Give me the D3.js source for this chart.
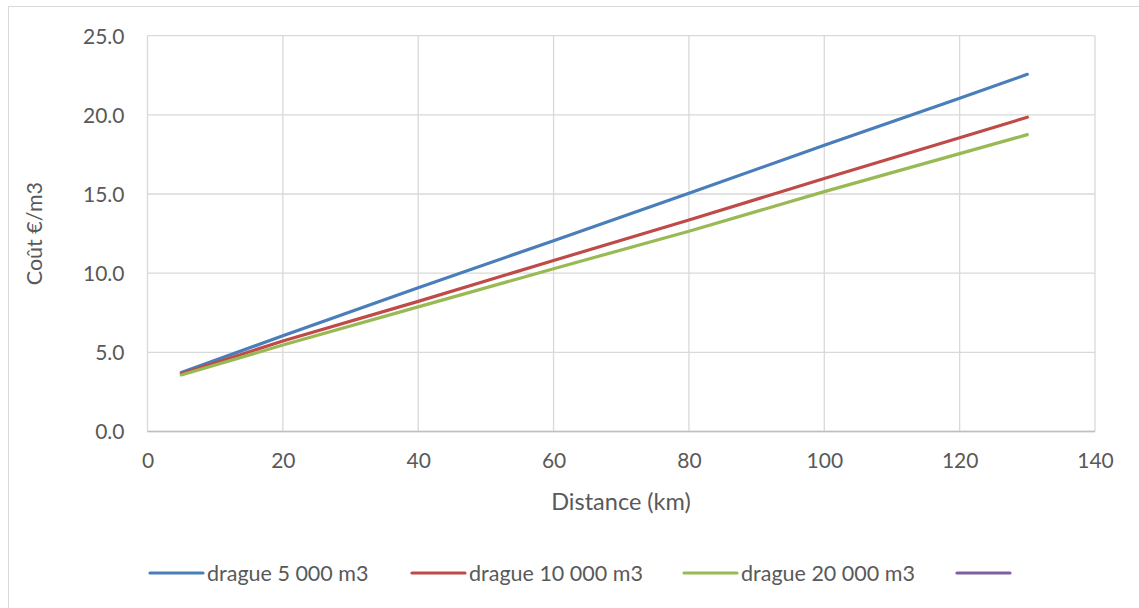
<!DOCTYPE html>
<html>
<head>
<meta charset="utf-8">
<script src="https://cdn.jsdelivr.net/npm/d3@7"></script>
<style>
  html, body { margin: 0; padding: 0; background: #fff; }
  svg { display: block; }
  text { font-family: Lato, "Open Sans", sans-serif; fill: #595959; }
</style>
</head>
<body>
<svg id="chart" width="1139" height="608"></svg>
<script>
// Distance (km) at which each cost was evaluated
const distances = [5, 20, 40, 60, 80, 100, 120, 130];
// Cost per m3 for each dredger capacity
const cost5000  = [3.72, 6.05, 9.08, 12.05, 15.05, 18.08, 21.05, 22.56];
const cost10000 = [3.64, 5.72, 8.22, 10.80, 13.36, 15.98, 18.55, 19.85];
const cost20000 = [3.57, 5.46, 7.87, 10.28, 12.65, 15.15, 17.55, 18.75];
const seriesNames = ["drague 5 000 m3", "drague 10 000 m3", "drague 20 000 m3", ""];
const seriesColors = ["#4a7ebb", "#be4b48", "#98b954", "#7d60a0"];
const xTicks = [0, 20, 40, 60, 80, 100, 120, 140];
const yTicks = [0, 5, 10, 15, 20, 25];

const series = [cost5000, cost10000, cost20000];

const svg = d3.select("#chart");
const plot = { left: 147.5, right: 1095, top: 35.7, bottom: 431.5 };

const x = d3.scaleLinear().domain([0, 140]).range([plot.left, plot.right]);
const y = d3.scaleLinear().domain([0, 25]).range([plot.bottom, plot.top]);

// chart frame
svg.append("rect")
  .attr("x", 8.5).attr("y", 6.5)
  .attr("width", 1200).attr("height", 700)
  .attr("fill", "none").attr("stroke", "#d9d9d9").attr("stroke-width", 1);

// gridlines
const grid = svg.append("g");
grid.selectAll("line.v").data(xTicks).join("line")
  .attr("x1", d => x(d)).attr("x2", d => x(d))
  .attr("y1", plot.top).attr("y2", plot.bottom)
  .attr("stroke", "#d9d9d9").attr("stroke-width", 1.3);
grid.selectAll("line.h").data(yTicks).join("line")
  .attr("x1", plot.left).attr("x2", plot.right)
  .attr("y1", d => y(d)).attr("y2", d => y(d))
  .attr("stroke", "#d9d9d9").attr("stroke-width", 1.3);

// bottom axis line
svg.append("line")
  .attr("x1", plot.left).attr("x2", plot.right)
  .attr("y1", plot.bottom).attr("y2", plot.bottom)
  .attr("stroke", "#bfbfbf").attr("stroke-width", 1.3);

// axes (labels only)
const xAxis = svg.append("g")
  .attr("transform", `translate(0,${plot.bottom})`)
  .call(d3.axisBottom(x).tickValues(xTicks).tickSize(0).tickPadding(22).tickFormat(d3.format("d")));
const yAxis = svg.append("g")
  .attr("transform", `translate(${plot.left},0)`)
  .call(d3.axisLeft(y).tickValues(yTicks).tickSize(0).tickPadding(23).tickFormat(d3.format(".1f")));
[xAxis, yAxis].forEach(a => {
  a.select(".domain").remove();
  a.selectAll("text").attr("font-size", 21).attr("fill", "#595959")
    .style("font-family", "Lato, 'Open Sans', sans-serif");
});
yAxis.selectAll("text").attr("dy", "0.35em");

// axis titles
svg.append("text")
  .attr("x", 621).attr("y", 502).attr("dy", "0.35em")
  .attr("text-anchor", "middle").attr("font-size", 23.5)
  .text("Distance (km)");
svg.append("text")
  .attr("transform", `translate(34,${(plot.top + plot.bottom) / 2}) rotate(-90)`)
  .attr("text-anchor", "middle").attr("dy", "0.35em").attr("font-size", 21.5)
  .text("Coût €/m3");

// series lines
const line = d3.line().x((d, i) => x(distances[i])).y(d => y(d));
svg.append("g").selectAll("path").data(series).join("path")
  .attr("d", d => line(d))
  .attr("fill", "none")
  .attr("stroke", (d, i) => seriesColors[i])
  .attr("stroke-width", 3.2)
  .attr("stroke-linecap", "round")
  .attr("stroke-linejoin", "round");

// legend
const legendX = [150, 412, 684, 957];
const legend = svg.append("g").selectAll("g").data(seriesNames).join("g")
  .attr("transform", (d, i) => `translate(${legendX[i]},573)`);
legend.append("line")
  .attr("x1", 0).attr("x2", 53).attr("y1", 0).attr("y2", 0)
  .attr("stroke", (d, i) => seriesColors[i])
  .attr("stroke-width", 3.2).attr("stroke-linecap", "round");
legend.append("text")
  .attr("x", 57).attr("y", 0).attr("dy", "0.35em")
  .attr("font-size", 21.5)
  .text(d => d);
</script>
</body>
</html>
